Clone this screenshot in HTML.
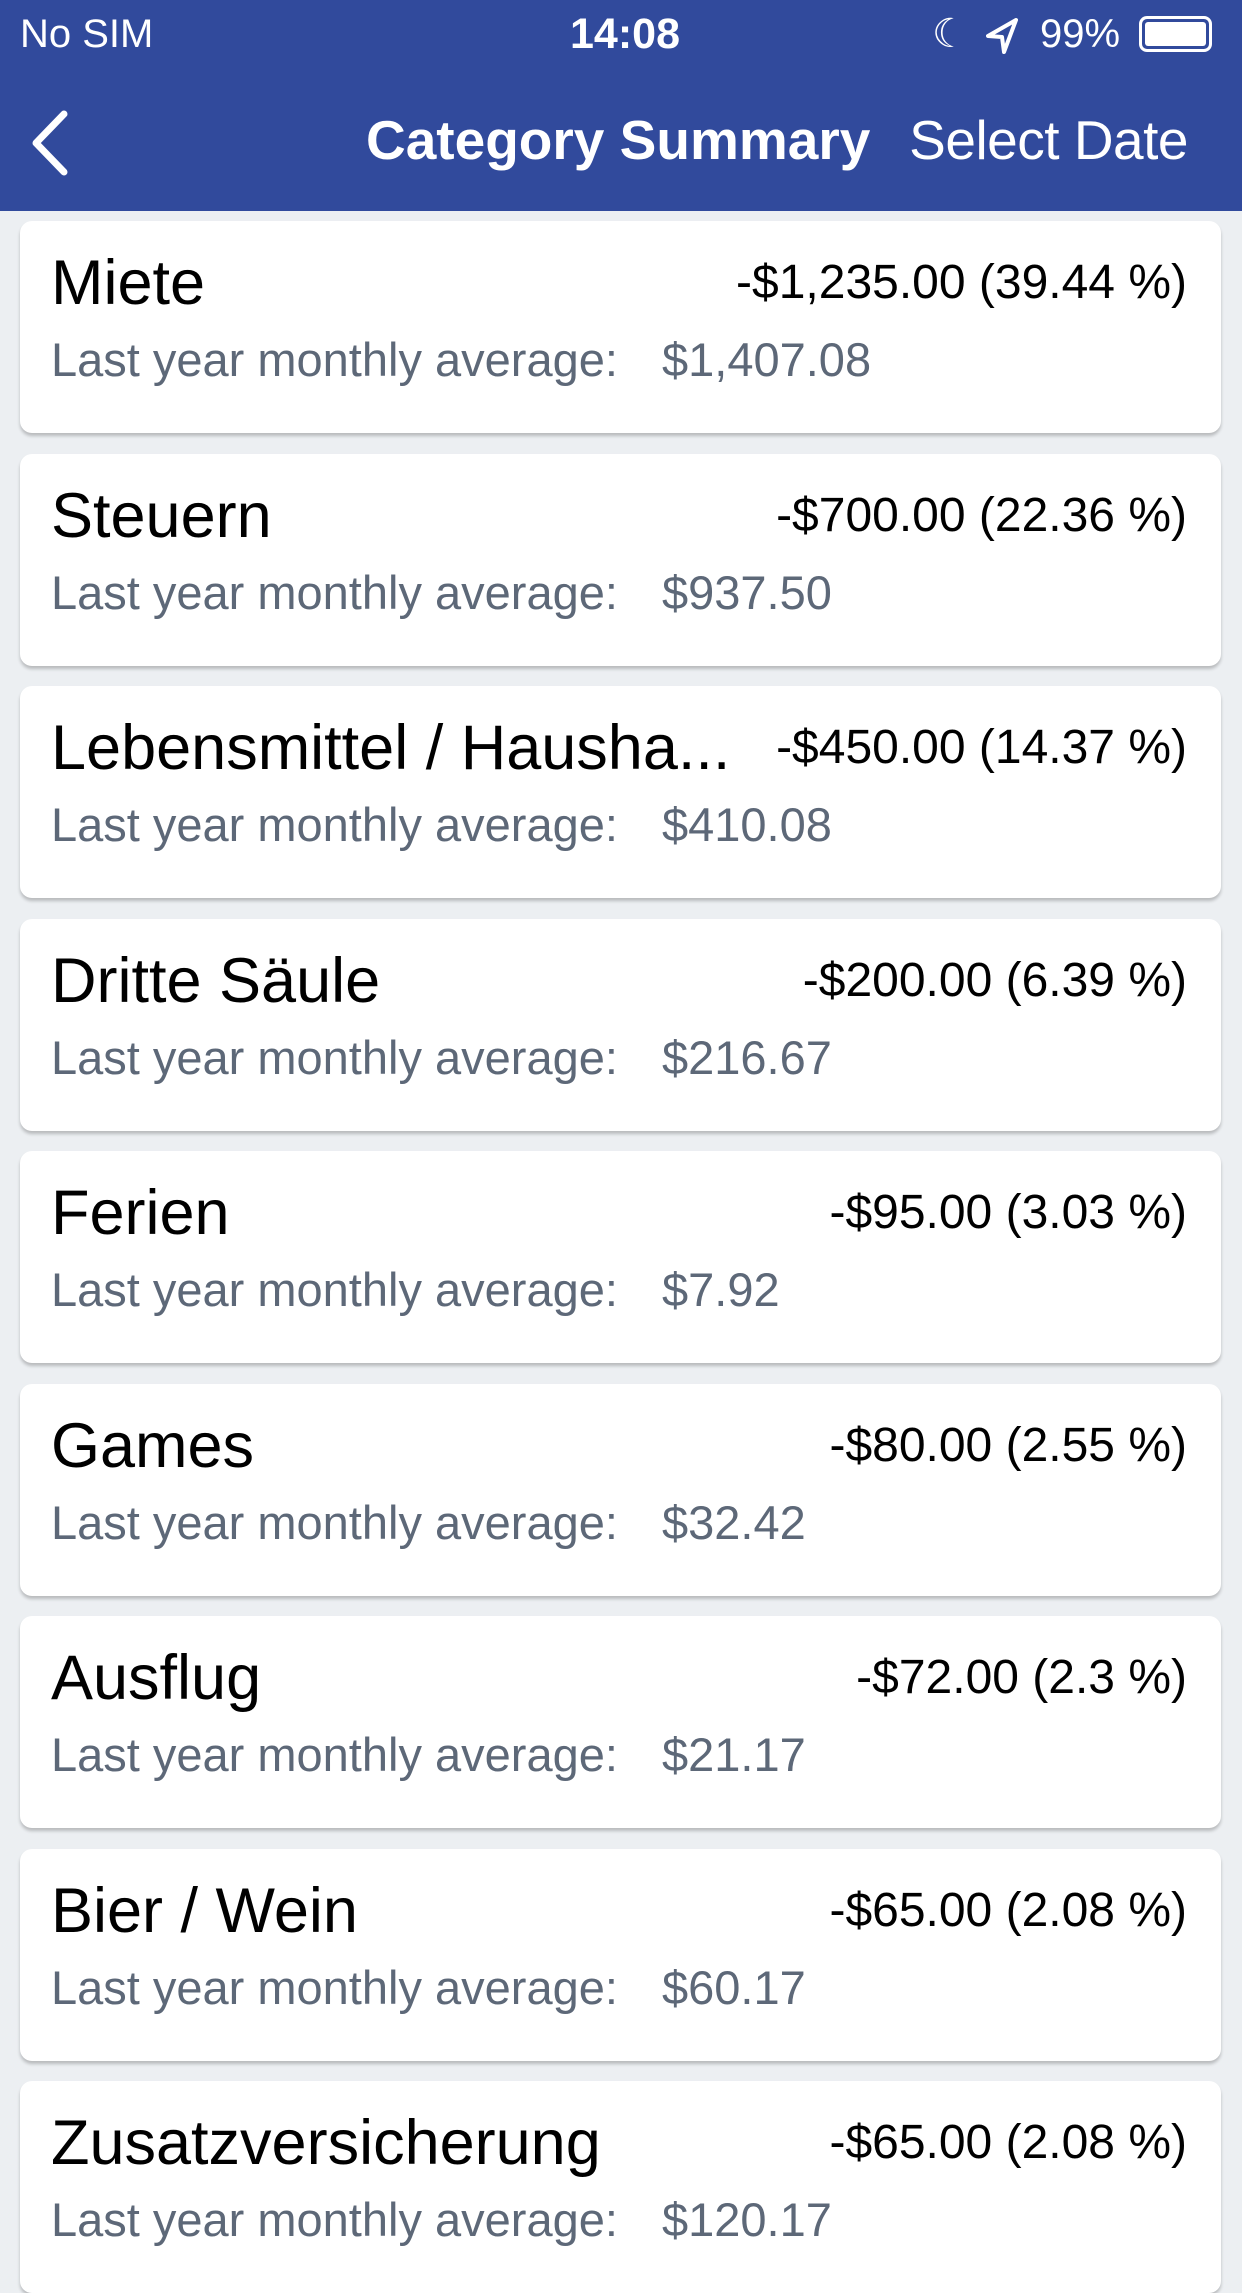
<!DOCTYPE html>
<html><head><meta charset="utf-8"><style>
*{margin:0;padding:0;box-sizing:border-box}
body{width:1242px;height:2208px;overflow:hidden;background:#eceff2;font-family:"Liberation Sans",sans-serif;position:relative}
#nav{position:absolute;left:0;top:0;width:1242px;height:211px;background:#314a9c;color:#fff}
.sb{position:absolute;top:10px;font-size:40px;line-height:48px;white-space:nowrap}
.card{position:absolute;left:20px;width:1201px;height:212px;background:#fff;border-radius:12px;box-shadow:0 3px 3px rgba(0,0,0,0.22)}
.name{position:absolute;left:31px;top:27px;font-size:63px;line-height:70px;color:#000;white-space:nowrap;letter-spacing:0px}
.amt{position:absolute;right:34px;top:35px;font-size:48px;line-height:54px;color:#000;white-space:nowrap;letter-spacing:0px}
.sub{position:absolute;left:31px;top:112px;font-size:47px;line-height:54px;color:#5d6878;white-space:nowrap;letter-spacing:0px}
.val{position:absolute;left:642px;top:112px;font-size:47px;line-height:54px;color:#5d6878;letter-spacing:0px}
</style></head><body>
<div id="nav">
<div class="sb" style="left:20px">No SIM</div>
<div class="sb" style="left:570px;font-weight:bold;font-size:43px">14:08</div>
<div class="sb" style="left:932px">☾</div>
<svg style="position:absolute;left:986px;top:18px" width="32" height="36"><polygon points="30,2 2,18 16,19 18,34" fill="none" stroke="#fff" stroke-width="4" stroke-linejoin="round"/></svg>
<div class="sb" style="left:1040px">99%</div>
<div style="position:absolute;left:1139px;top:16px;width:73px;height:36px;border:3px solid #fff;border-radius:8px;padding:3px"><div style="background:#fff;width:100%;height:100%;border-radius:3px"></div></div>
<svg style="position:absolute;left:24px;top:108px" width="50" height="70"><polyline points="40,6 12,35 40,64" fill="none" stroke="#fff" stroke-width="7" stroke-linecap="round" stroke-linejoin="round"/></svg>
<div style="position:absolute;left:366px;top:108px;font-size:55px;font-weight:bold;line-height:64px;white-space:nowrap;letter-spacing:0px">Category Summary</div>
<div style="position:absolute;right:54px;top:108px;font-size:55px;line-height:64px;white-space:nowrap;letter-spacing:-0.5px">Select Date</div>
</div>
<div id="list"></div>
<script>
const names=["Miete","Steuern","Lebensmittel / Hausha...","Dritte Säule","Ferien","Games","Ausflug","Bier / Wein","Zusatzversicherung"];
const amounts=["-$1,235.00 (39.44 %)","-$700.00 (22.36 %)","-$450.00 (14.37 %)","-$200.00 (6.39 %)","-$95.00 (3.03 %)","-$80.00 (2.55 %)","-$72.00 (2.3 %)","-$65.00 (2.08 %)","-$65.00 (2.08 %)"];
const averages=["$1,407.08","$937.50","$410.08","$216.67","$7.92","$32.42","$21.17","$60.17","$120.17"];
const list=document.getElementById('list');
names.forEach((n,i)=>{
 const c=document.createElement('div');c.className='card';c.style.top=(221+i*232.5)+'px';
 
 
 const a=document.createElement('div');a.className='name';a.textContent=n;
 
 
 const b=document.createElement('div');b.className='amt';b.textContent=amounts[i];
 
 
 const s=document.createElement('div');s.className='sub';s.textContent='Last year monthly average:';
 
 
 const v=document.createElement('div');v.className='val';v.textContent=averages[i];
 
 
 c.append(a,b,s,v);list.appendChild(c);
});
</script>
</body></html>
